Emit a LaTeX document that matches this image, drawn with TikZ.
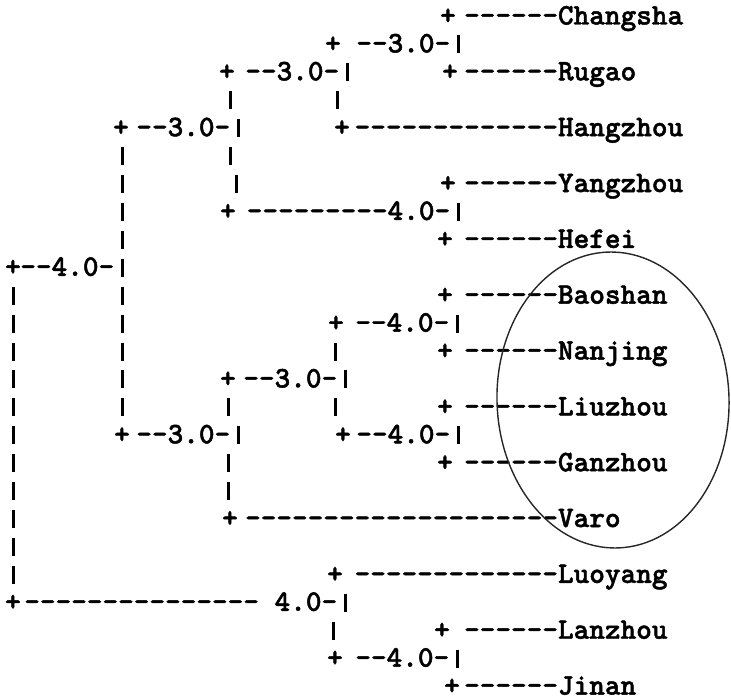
\documentclass[tikz,border=0pt]{standalone}
\usepackage{fontspec}
% heavy typewriter face (Latin Modern Mono Light, bold cut, thickened)
\newfontfamily\typew{lmmonolt10-bold.otf}[Ligatures=ResetAll, FakeBold=1.6]
% Typewriter-style dendrogram of city clusters; one unit = one pixel.
\tikzset{
  ascii/.style={font=\typew\fontsize{14.9}{15}\selectfont,
                inner sep=0pt, outer sep=0pt},
  plusnode/.style={ascii, anchor=base},
  citynode/.style={ascii, anchor=base west},
  runnode/.style={ascii, anchor=base east},
  barline/.style={line width=1.5pt},
  ring/.style={line width=0.7pt, draw=black!85},
}
% baseline and centre of text row #1
\newcommand\rowb[1]{(24.5+27.92*(#1-1))}
\newcommand\rowc[1]{(16.5+27.92*(#1-1))}
% a single vertical bar at x=#1 in row #2
\newcommand\vbarat[2]{\draw[barline] (#1,{\rowc{#2}-9}) -- (#1,{\rowc{#2}+9});}
% leaf: name, row, x of plus, dash run, label
\newcommand\leaf[5]{%
  \node[citynode] (#1) at (558,{\rowb{#2}}) {#5};
  \node[runnode] (#1-run) at (#1.base west) {#4};
  \node[plusnode] (#1-plus) at (#3,{\rowb{#2}}) {+};}
% junction: name, row, x of plus, text, x of closing bar
\newcommand\junction[5]{%
  \node[plusnode] (#1) at (#3,{\rowb{#2}}) {+};
  \node[runnode] (#1-run) at ({#5-7.8},{\rowb{#2}}) {#4};
  \vbarat{#5}{#2}}
\begin{document}
\begin{tikzpicture}[x=0.5pt,y=-0.5pt]
\useasboundingbox (0,0) rectangle (731,699);

% leaves
\leaf{changsha}{1}{448}{------}{Changsha}
\leaf{rugao}{3}{450}{------}{Rugao}
\leaf{hangzhou}{5}{342}{-------------}{Hangzhou}
\leaf{yangzhou}{7}{448}{------}{Yangzhou}
\leaf{hefei}{9}{445}{------}{Hefei}
\leaf{baoshan}{11}{445}{------}{Baoshan}
\leaf{nanjing}{13}{445}{------}{Nanjing}
\leaf{liuzhou}{15}{445}{------}{Liuzhou}
\leaf{ganzhou}{17}{445}{------}{Ganzhou}
\leaf{varo}{19}{230}{--------------------}{Varo}
\leaf{luoyang}{21}{335}{-------------}{Luoyang}
\leaf{lanzhou}{23}{442}{------}{Lanzhou}
\leaf{jinan}{25}{452}{------}{Jinan}

% merge points
\junction{j1}{2}{333}{--3.0-}{458}
\junction{j2}{3}{227}{--3.0-}{347}
\junction{j3}{5}{121}{--3.0-}{238}
\junction{j4}{8}{228}{---------4.0-}{458}
\junction{j5}{10}{13}{--4.0-}{122}
\junction{j6}{12}{336}{--4.0-}{457}
\junction{j7}{14}{228}{--3.0-}{345}
\junction{j8}{16}{122}{--3.0-}{238}
\junction{j9}{16}{343}{--4.0-}{458}
\junction{j10}{22}{13}{--------------- 4.0-}{345}
\junction{j11}{24}{335}{--4.0-}{457}

% vertical stems
\foreach \r in {11,...,21} {\vbarat{13}{\r}}
\foreach \r in {6,7,8,9,11,12,13,14,15} {\vbarat{122}{\r}}
\foreach \r in {4,6} {\vbarat{230}{\r}}
\vbarat{236}{7}
\foreach \r in {15,17,18} {\vbarat{228}{\r}}
\vbarat{337}{4}
\foreach \r in {13,15} {\vbarat{335}{\r}}
\vbarat{333}{23}

% hand-drawn ring around the lower cluster
\draw[ring, rotate around={2:(613,400)}] (613,400) ellipse [x radius=116, y radius=148];
\end{tikzpicture}
\end{document}
